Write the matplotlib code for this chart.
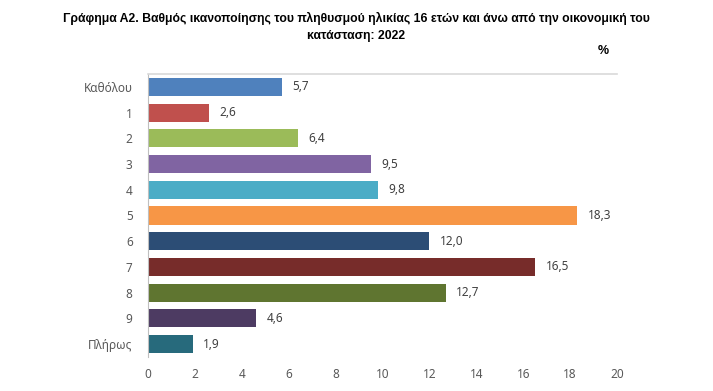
import matplotlib
matplotlib.use("Agg")
import matplotlib.pyplot as plt

categories = ["Καθόλου", "1", "2", "3", "4", "5", "6", "7", "8", "9", "Πλήρως"]
values = [5.7, 2.6, 6.4, 9.5, 9.8, 18.3, 12.0, 16.5, 12.7, 4.6, 1.9]
colors = ["#4F81BD", "#C0504D", "#9BBB59", "#8064A2", "#4BACC6", "#F79646",
          "#2C4D75", "#772C2A", "#5F7530", "#4D3B62", "#276A7C"]
xticks = [0, 2, 4, 6, 8, 10, 12, 14, 16, 18, 20]
title = "Γράφημα Α2. Βαθμός ικανοποίησης του πληθυσμού ηλικίας 16 ετών και άνω από την οικονομική του\nκατάσταση: 2022"

plt.rcParams['font.family'] = ['Noto Sans', 'DejaVu Sans']

fig = plt.figure(figsize=(7.13, 3.91), dpi=100)
ax = fig.add_axes([148/713, 1-357/391, (617-148)/713, (357-74)/391])

y = list(range(len(categories)))
ax.barh(y, values, height=0.7, color=colors)
ax.set_ylim(len(categories)-0.5, -0.5)
ax.set_xlim(0, 20)
ax.set_yticks(y)
ax.set_yticklabels(categories)
ax.set_xticks(xticks)
ax.set_xticklabels([str(t) for t in xticks])
ax.tick_params(axis='both', length=0, labelsize=8.5, colors='#595959', pad=8)
ax.tick_params(axis='y', pad=11)
for s in ['right', 'bottom']:
    ax.spines[s].set_visible(False)
ax.spines['left'].set_color('#BFBFBF')
ax.spines['top'].set_color('#D9D9D9')
ax.spines['top'].set_linewidth(1.2)

for yi, v in zip(y, values):
    ax.text(v + 0.45, yi, f"{v:.1f}".replace('.', ','), va='center', ha='left',
            fontsize=8.5, color='#404040')

fig.text(356/713, 1-27/391, title, ha='center', va='center', fontsize=8.8,
         fontweight='bold', color='#000000', linespacing=1.6,
         family=['Liberation Sans', 'DejaVu Sans'])
fig.text(603/713, 1-51/391, "%", ha='center', va='center', fontsize=9,
         fontweight='bold', color='#000000',
         family=['Liberation Sans', 'DejaVu Sans'])

fig.savefig("out.png", dpi=100)
